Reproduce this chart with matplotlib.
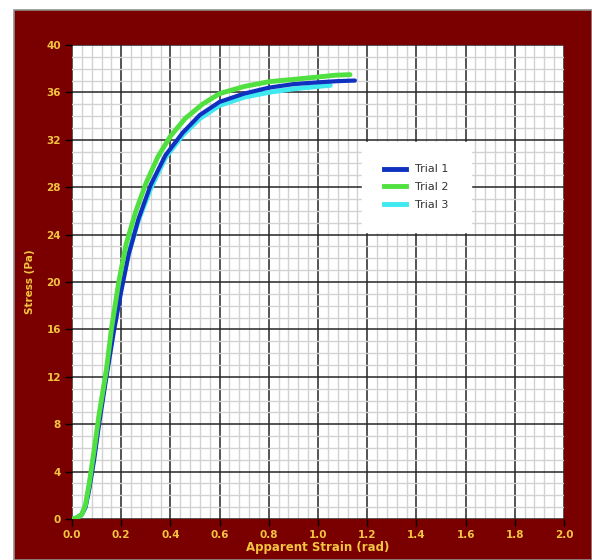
import matplotlib
matplotlib.use("Agg")
import matplotlib.pyplot as plt
from matplotlib.patches import Rectangle
from matplotlib.ticker import MultipleLocator
from matplotlib.lines import Line2D

# Data
trial1_x = [0.0, 0.02, 0.04, 0.055, 0.07, 0.09, 0.11, 0.14, 0.17, 0.2, 0.23, 0.27, 0.32, 0.38, 0.45, 0.52, 0.6, 0.7, 0.8, 0.9, 1.0, 1.08, 1.15]
trial1_y = [0.0, 0.1, 0.4, 1.0, 2.5, 5.0, 8.0, 12.0, 15.8, 19.2, 22.3, 25.3, 28.2, 30.7, 32.6, 34.1, 35.2, 35.9, 36.4, 36.7, 36.85, 36.95, 37.0]

trial2_x = [0.0, 0.02, 0.04, 0.055, 0.07, 0.09, 0.11, 0.14, 0.16, 0.19, 0.22, 0.26, 0.3, 0.35, 0.4, 0.46, 0.53, 0.6, 0.7, 0.8, 0.9, 1.0, 1.07, 1.13]
trial2_y = [0.0, 0.1, 0.4, 1.2, 3.0, 5.8, 8.8, 12.6, 16.0, 20.0, 23.2, 26.0, 28.3, 30.6, 32.3, 33.8, 35.0, 35.9, 36.5, 36.9, 37.1, 37.3, 37.45, 37.5]

trial3_x = [0.0, 0.02, 0.04, 0.055, 0.07, 0.09, 0.11, 0.14, 0.17, 0.2, 0.23, 0.27, 0.32, 0.38, 0.45, 0.52, 0.6, 0.7, 0.8, 0.9, 1.0, 1.05]
trial3_y = [0.0, 0.1, 0.4, 1.1, 2.8, 5.5, 8.5, 12.5, 16.2, 19.6, 22.4, 25.2, 27.9, 30.5, 32.4, 33.8, 34.9, 35.6, 36.0, 36.3, 36.5, 36.6]

labels = ["Trial 1", "Trial 2", "Trial 3"]
colors = ["#1030c0", "#50e040", "#40e8f0"]

maroon = "#7a0000"
gold = "#f2c440"

fig = plt.figure(figsize=(5.92, 5.6), dpi=100)
fig.patch.set_facecolor("white")
fig.add_artist(Rectangle((14/592, 0), 1 - 14/592, (560-10)/560, transform=fig.transFigure,
                         facecolor=maroon, edgecolor="#909090", linewidth=1.2, zorder=0))

ax = fig.add_axes([72/592, 41/560, 492/592, 474/560])
ax.set_facecolor("white")
ax.set_xlim(0, 2.0)
ax.set_ylim(0, 40)
xticks = [0.0, 0.2, 0.4, 0.6, 0.8, 1.0, 1.2, 1.4, 1.6, 1.8, 2.0]
ax.set_xticks(xticks)
ax.set_xticklabels([f"{v:.1f}" for v in xticks])
ax.xaxis.set_minor_locator(MultipleLocator(0.04))
ax.yaxis.set_major_locator(MultipleLocator(4))
ax.yaxis.set_minor_locator(MultipleLocator(1))
ax.grid(which="minor", color="#d2d2d2", linewidth=1.0)
ax.grid(which="major", color="#262626", linewidth=1.1)
ax.set_axisbelow(True)
for s in ax.spines.values():
    s.set_visible(False)

ax.tick_params(which="major", direction="out", length=5, width=1, color="black",
               labelcolor=gold, labelsize=7.5, pad=3)
ax.tick_params(which="minor", length=0)
for lab in ax.get_xticklabels() + ax.get_yticklabels():
    lab.set_fontweight("bold")

ax.set_xlabel("Apparent Strain (rad)", color=gold, fontsize=8.5, fontweight="bold", labelpad=1)
ax.set_ylabel("Stress (Pa)", color=gold, fontsize=7.5, fontweight="bold", labelpad=8)

ax.plot(trial3_x, trial3_y, color=colors[2], linewidth=3.5, solid_capstyle="round", zorder=3)
ax.plot(trial1_x, trial1_y, color=colors[0], linewidth=3.0, solid_capstyle="round", zorder=4)
ax.plot(trial2_x, trial2_y, color=colors[1], linewidth=3.5, solid_capstyle="round", zorder=5)

handles = [Line2D([0], [0], color=c, linewidth=3.5) for c in colors]
leg = ax.legend(handles, labels, loc="center", bbox_to_anchor=(0.70, 0.70),
                frameon=True, fancybox=False, handlelength=2.0, borderpad=2.0,
                labelspacing=0.7, handletextpad=0.8,
                prop={"family": ["Liberation Sans Narrow", "DejaVu Sans"], "size": 8})
leg.get_frame().set_facecolor("white")
leg.get_frame().set_edgecolor("white")
leg.get_frame().set_alpha(1)
for t in leg.get_texts():
    t.set_color("#333333")

fig.savefig("out.png", dpi=100, facecolor=fig.get_facecolor())
